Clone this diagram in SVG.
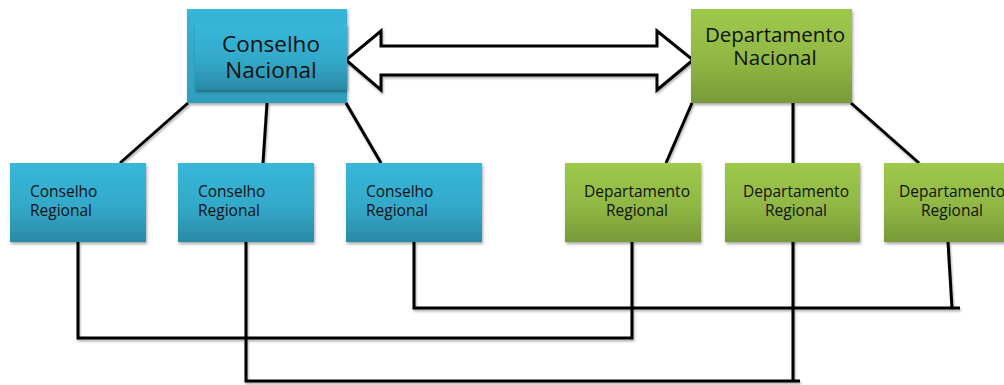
<svg xmlns="http://www.w3.org/2000/svg" width="1004" height="385" viewBox="0 0 1004 385">
  <defs>
    <linearGradient id="gBlue" x1="0" y1="0" x2="0" y2="1">
      <stop offset="0" stop-color="#38b7da"/>
      <stop offset="0.55" stop-color="#33a9c9"/>
      <stop offset="1" stop-color="#2a8aa6"/>
    </linearGradient>
    <linearGradient id="gBlueOuter" x1="0" y1="0" x2="0" y2="1">
      <stop offset="0" stop-color="#37b5d8"/>
      <stop offset="1" stop-color="#2f9dbd"/>
    </linearGradient>
    <linearGradient id="gGreen" x1="0" y1="0" x2="0" y2="1">
      <stop offset="0" stop-color="#9ec94c"/>
      <stop offset="0.55" stop-color="#90b744"/>
      <stop offset="1" stop-color="#789a39"/>
    </linearGradient>
    <filter id="shadow" x="-10%" y="-10%" width="125%" height="130%">
      <feDropShadow dx="1" dy="2" stdDeviation="1.5" flood-color="#000" flood-opacity="0.35"/>
    </filter>
    <filter id="lshadow" x="-5%" y="-5%" width="110%" height="110%">
      <feDropShadow dx="1" dy="2" stdDeviation="1" flood-color="#000" flood-opacity="0.3"/>
    </filter>
  </defs>
  <style>
    .con { fill: none; stroke: #000; stroke-width: 3; stroke-linecap: butt; }
    .blue { fill: url(#gBlue); }
    .green { fill: url(#gGreen); }
    .txt { font-family: "Open Sans", "Liberation Sans", sans-serif; fill: #111; }
    .reg { font-size: 15.5px; }
  </style>
  <rect width="1004" height="385" fill="#fff"/>

  <g id="connectors" filter="url(#lshadow)">
    <line class="con" x1="188" y1="103" x2="120" y2="163"/>
    <line class="con" x1="267" y1="103" x2="263" y2="163"/>
    <line class="con" x1="346" y1="103" x2="381" y2="163"/>
    <line class="con" x1="692" y1="103" x2="666" y2="163"/>
    <line class="con" x1="793" y1="103" x2="793" y2="382"/>
    <line class="con" x1="851" y1="103" x2="919" y2="163"/>
    <path class="con" d="M78,242 V338 H632 V242"/>
    <path class="con" d="M414,242 V308 H960"/>
    <line class="con" x1="948" y1="242" x2="952" y2="308"/>
    <path class="con" d="M246,242 V381 H800"/>
    <polygon id="double-arrow" points="346,60 381,31 381,46 657,46 657,31 693,60 657,90 657,75 381,75 381,90" fill="#fff" stroke="#000" stroke-width="3" stroke-linejoin="miter"/>
  </g>

  <g id="conselho-nacional">
    <rect x="187" y="9" width="160" height="94" fill="url(#gBlueOuter)" filter="url(#shadow)"/>
    <rect x="195" y="24" width="152" height="66" class="blue" filter="url(#shadow)"/>
    <text class="txt" x="271" y="52" font-size="22.5" text-anchor="middle">Conselho</text>
    <text class="txt" x="271" y="78" font-size="22.5" text-anchor="middle">Nacional</text>
  </g>

  <g id="departamento-nacional">
    <rect x="691" y="9" width="161" height="94" class="green" filter="url(#shadow)"/>
    <text class="txt" x="775" y="42" font-size="20.5" text-anchor="middle">Departamento</text>
    <text class="txt" x="775" y="65" font-size="20.5" text-anchor="middle">Nacional</text>
  </g>

  <g id="conselho-regional-1">
    <rect x="10" y="163" width="136" height="79" class="blue" filter="url(#shadow)"/>
    <text class="txt reg" x="30" y="197">Conselho</text>
    <text class="txt reg" x="30" y="216">Regional</text>
  </g>
  <g id="conselho-regional-2">
    <rect x="178" y="163" width="136" height="79" class="blue" filter="url(#shadow)"/>
    <text class="txt reg" x="198" y="197">Conselho</text>
    <text class="txt reg" x="198" y="216">Regional</text>
  </g>
  <g id="conselho-regional-3">
    <rect x="346" y="163" width="136" height="79" class="blue" filter="url(#shadow)"/>
    <text class="txt reg" x="366" y="197">Conselho</text>
    <text class="txt reg" x="366" y="216">Regional</text>
  </g>

  <g id="departamento-regional-1">
    <rect x="565" y="163" width="136" height="79" class="green" filter="url(#shadow)"/>
    <text class="txt reg" x="637" y="197" text-anchor="middle">Departamento</text>
    <text class="txt reg" x="637" y="216" text-anchor="middle">Regional</text>
  </g>
  <g id="departamento-regional-2">
    <rect x="725" y="163" width="135" height="79" class="green" filter="url(#shadow)"/>
    <text class="txt reg" x="796" y="197" text-anchor="middle">Departamento</text>
    <text class="txt reg" x="796" y="216" text-anchor="middle">Regional</text>
  </g>
  <g id="departamento-regional-3">
    <rect x="884" y="163" width="136" height="79" class="green" filter="url(#shadow)"/>
    <text class="txt reg" x="952" y="197" text-anchor="middle">Departamento</text>
    <text class="txt reg" x="952" y="216" text-anchor="middle">Regional</text>
  </g>
</svg>
